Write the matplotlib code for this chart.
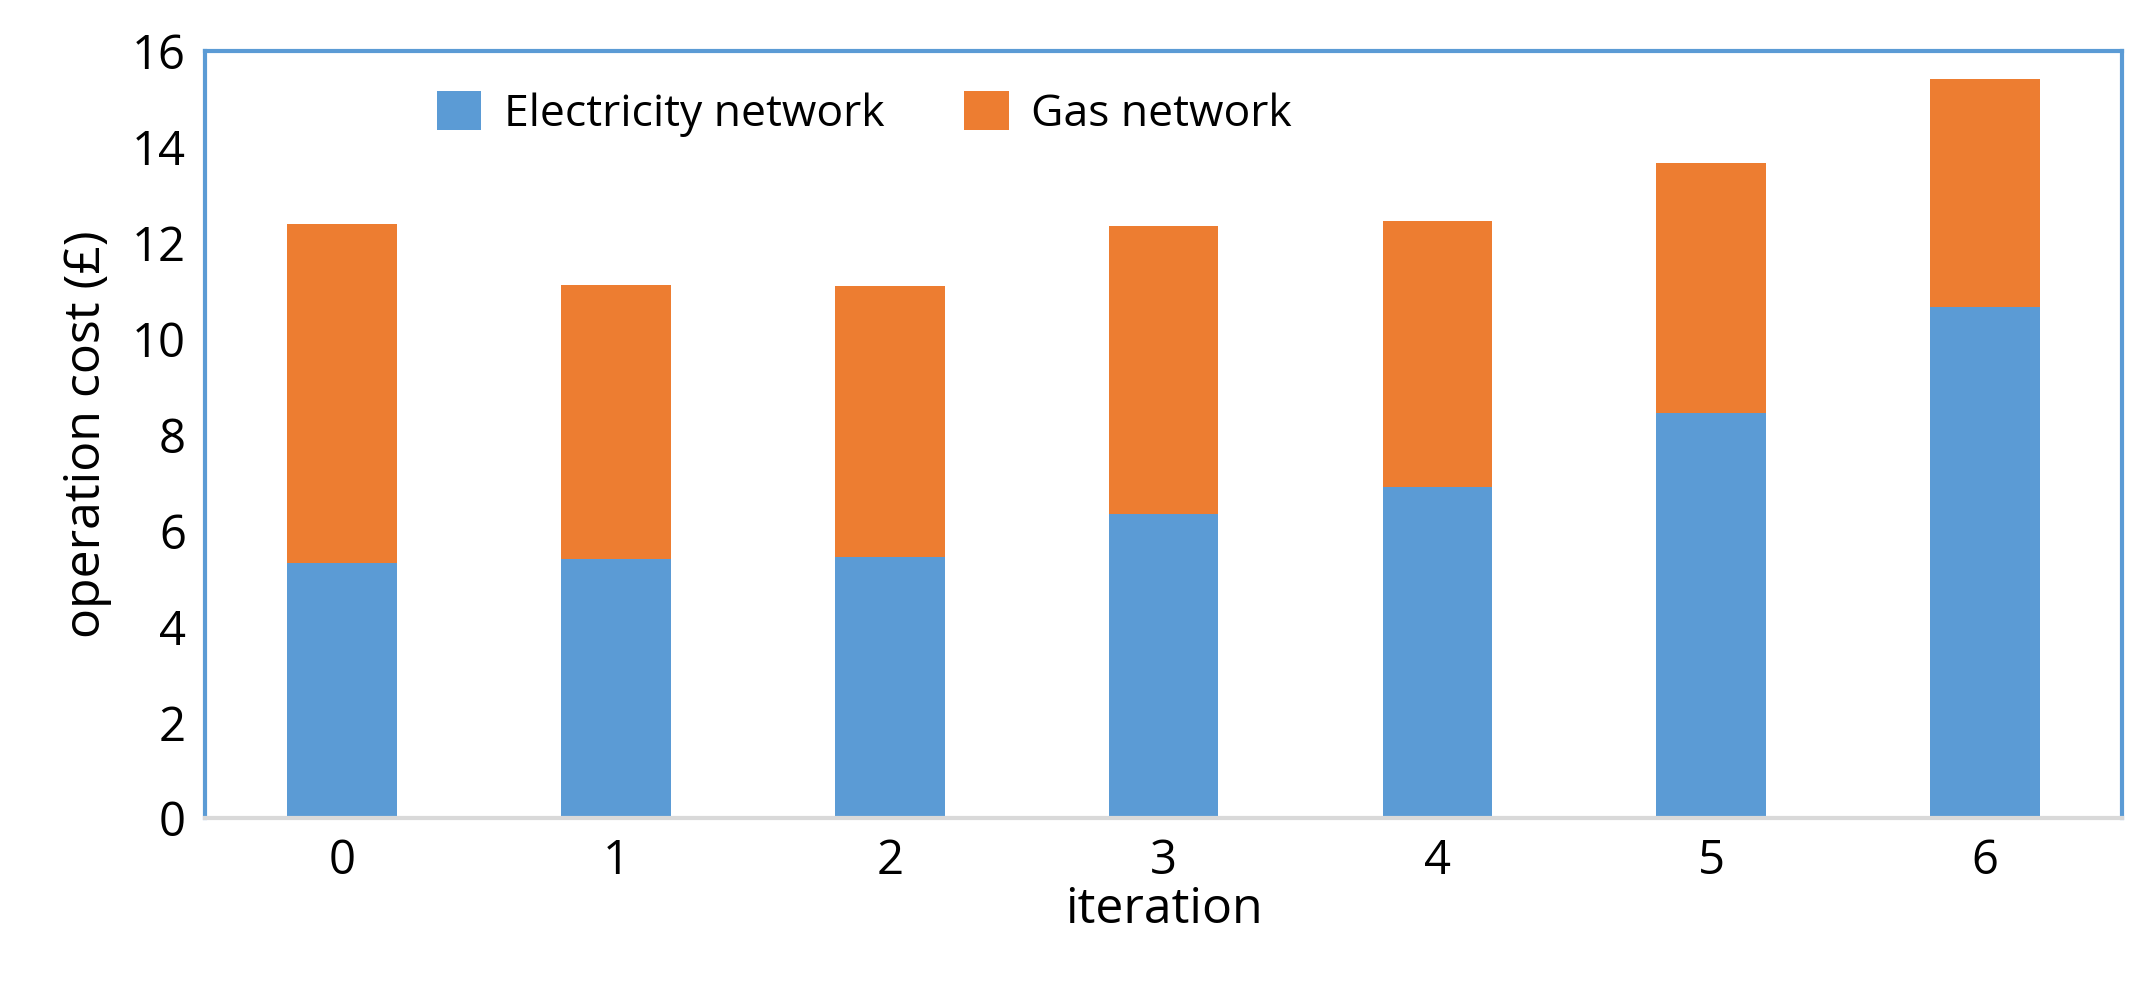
import numpy as np
import matplotlib.pyplot as plt

plt.rcParams['font.family'] = ['Open Sans', 'DejaVu Sans']

iterations = ["0", "1", "2", "3", "4", "5", "6"]
electricity = [5.33, 5.40, 5.45, 6.35, 6.90, 8.45, 10.65]
gas_total = [12.39, 11.12, 11.10, 12.35, 12.45, 13.65, 15.40]
gas = [t - e for t, e in zip(gas_total, electricity)]

blue = "#5B9BD5"
orange = "#ED7D31"

fig = plt.figure(figsize=(21.39, 9.93), dpi=100)
ax = fig.add_axes([0.096, 0.176, 0.896, 0.773])

x = np.arange(len(iterations))
ax.bar(x, electricity, width=0.4, color=blue, label="Electricity network")
ax.bar(x, gas, width=0.4, bottom=electricity, color=orange, label="Gas network")

ax.set_xlim(-0.5, 6.5)
ax.set_ylim(0, 16)
ax.set_yticks(range(0, 17, 2))
ax.set_xticks(x)
ax.set_xticklabels(iterations)
ax.tick_params(labelsize=34, length=0, pad=14)
ax.set_xlabel("iteration", fontsize=36, labelpad=0)
ax.set_ylabel("operation cost (£)", fontsize=36, labelpad=14)

for s in ["left", "top", "right"]:
    ax.spines[s].set_color(blue)
    ax.spines[s].set_linewidth(3)
ax.spines["bottom"].set_color("#D9D9D9")
ax.spines["bottom"].set_linewidth(3)

ax.legend(loc="upper left", bbox_to_anchor=(0.1, 1.0), ncol=2, frameon=False,
          fontsize=32, handlelength=1.0, handleheight=1.0, columnspacing=1.8,
          handletextpad=0.5)

fig.savefig("out.png", dpi=100)
